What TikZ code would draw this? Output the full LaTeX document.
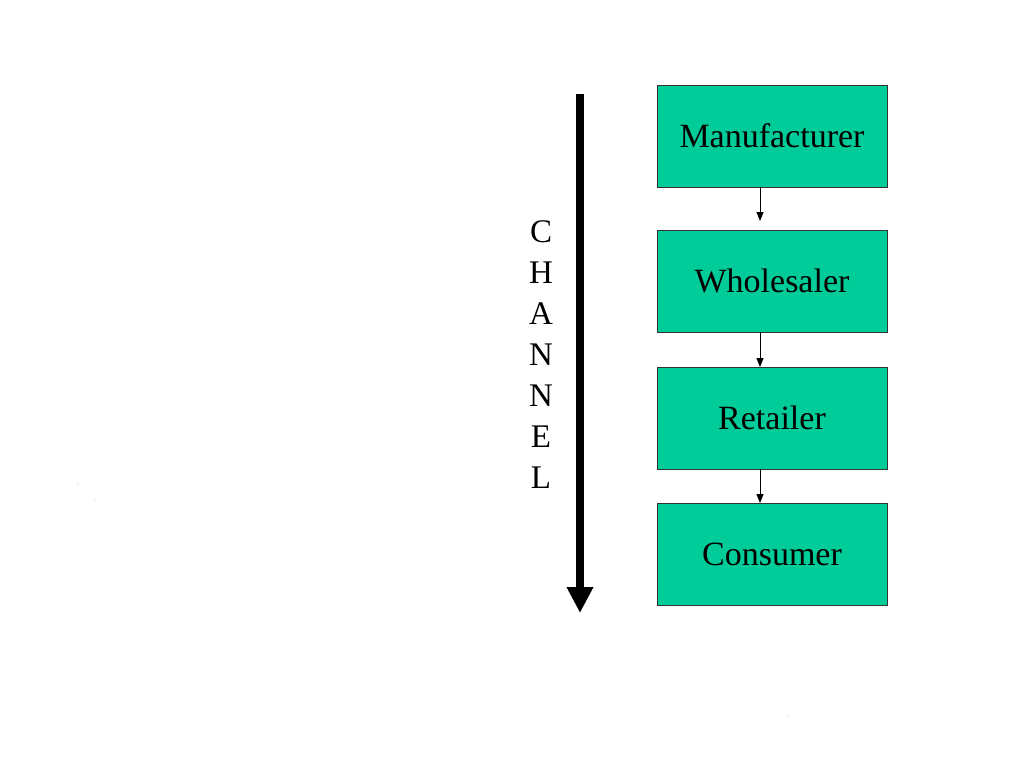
\documentclass[tikz,border=0pt]{standalone}
\usepackage{fontspec}
\setmainfont{Liberation Serif}
\usetikzlibrary{arrows.meta}
\definecolor{boxgreen}{RGB}{0,204,153}
\begin{document}
\begin{tikzpicture}[x=1pt,y=-1pt,
  stage/.style={draw=black!80,line width=0.8pt,fill=boxgreen,minimum width=230pt,minimum height=102pt,inner sep=0pt,font=\fontsize{34}{40}\selectfont},
  link/.style={-{Triangle[length=9pt,width=7pt]},line width=0.9pt},
  letter/.style={font=\fontsize{33}{40}\selectfont,inner sep=0pt},
  speck/.style={font=\fontsize{5}{5}\selectfont,inner sep=0pt}]
\useasboundingbox (0,0) rectangle (1024,768);
\node[stage] (m) at (772,136) {Manufacturer};
\node[stage] (w) at (772,281) {Wholesaler};
\node[stage] (r) at (772,418) {Retailer};
\node[stage] (c) at (772,554) {Consumer};
\coordinate (mw) at (760,221);
\coordinate (wr) at (760,367);
\coordinate (rc) at (760,503);
\draw[link] (m.south -| mw) -- (mw);
\draw[link] (w.south -| wr) -- (wr);
\draw[link] (r.south -| rc) -- (rc);
\coordinate (bigtop) at (580,94);
\coordinate (bigbot) at (580,613);
\draw[line width=8pt,-{Triangle[length=26pt,width=25pt]}] (bigtop) -- (bigbot);
\node[letter] (l1) at (541,232) {C};
\node[letter] (l2) at (541,273) {H};
\node[letter] (l3) at (541,314) {A};
\node[letter] (l4) at (541,355) {N};
\node[letter] (l5) at (541,396) {N};
\node[letter] (l6) at (541,437) {E};
\node[letter] (l7) at (541,478) {L};
\node[speck] (d1) at (78,485) {.};
\node[speck] (d2) at (95,501) {.};
\node[speck] (d3) at (789,717) {.};
\end{tikzpicture}
\end{document}
